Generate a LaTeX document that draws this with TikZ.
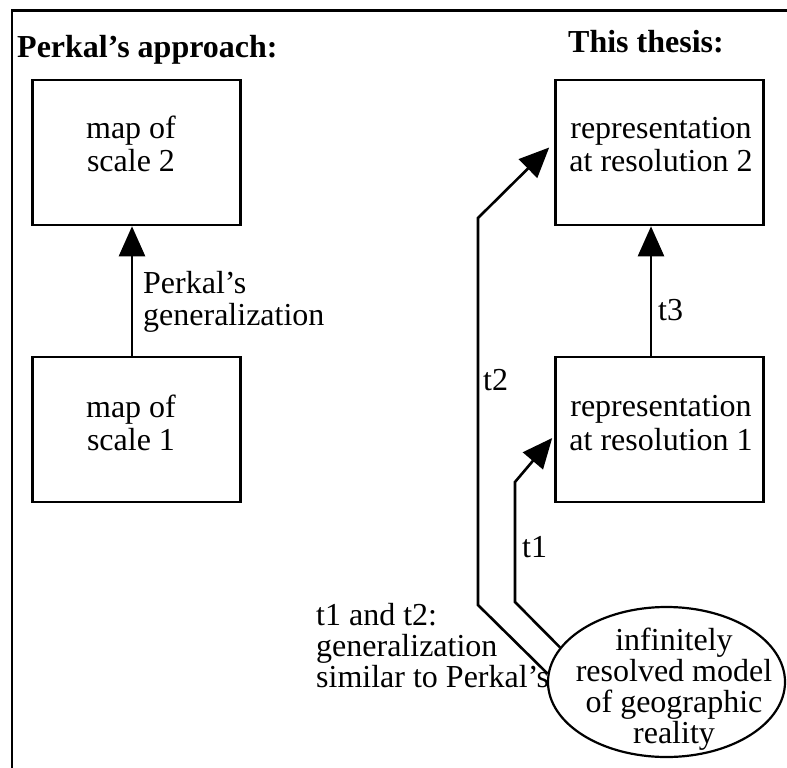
\documentclass[tikz,border=0pt]{standalone}
\usepackage{fontspec}
\setmainfont{Liberation Serif}
\usetikzlibrary{arrows.meta,shapes.geometric,calc}

\begin{document}
\begin{tikzpicture}[x=1pt,y=-1pt,
  box/.style={draw, line width=2.6pt, minimum width=208pt, minimum height=145pt, inner sep=0pt},
  txt/.style={font=\fontsize{32}{33}\selectfont, align=center, inner sep=0pt, anchor=base},
  lbl/.style={font=\fontsize{32}{31}\selectfont, align=left, inner sep=0pt, anchor=base west},
  ttl/.style={font=\fontsize{32}{33}\selectfont\bfseries, inner sep=0pt, anchor=base west},
  conn/.style={line width=2.6pt, line join=miter},
  tip/.style={-{Triangle[length=30pt,width=26pt]}}
]
\useasboundingbox (0,0) rectangle (787,768);
\clip (0,0) rectangle (787,768);

% outer frame (runs past the right and bottom edges)
\draw[line width=2.8pt] (12,800) -- (12,10.7) -- (800,10.7);

% headings
\node[ttl] (hleft) at (17,58) {Perkal’s approach:};
\node[ttl] (hright) at (568,53) {This thesis:};

% left column: Perkal's maps (multi-line text is placed by its last baseline)
\node[box] (map2) at (136.5,152.5) {};
\node[box] (map1) at (136.5,429.5) {};
\node[txt] (map2t) at (131,171) {map of\\scale 2};
\node[txt] (map1t) at (131,450) {map of\\scale 1};
\coordinate (pk) at (132,0);
\draw[conn,tip] (map1.north -| pk) -- (map2.south -| pk);
\node[lbl, font=\fontsize{32}{32}\selectfont] (pkl) at (143,325) {Perkal’s\\generalization};

% right column: representations
\node[box] (rep2) at (659.5,152.5) {};
\node[box] (rep1) at (659.5,429.5) {};
\node[txt] (rep2t) at (661,171) {representation\\at resolution 2};
\node[txt, font=\fontsize{32}{34}\selectfont] (rep1t) at (661,450) {representation\\at resolution 1};
\coordinate (tx) at (651,0);
\draw[conn,tip] (rep1.north -| tx) -- (rep2.south -| tx);
\node[lbl] (t3) at (658,320) {t3};

% the fully resolved model
\node[draw, ellipse, line width=2.2pt, minimum width=237pt, minimum height=150pt, inner sep=0pt] (real) at (666.5,682) {};
\node[txt, font=\fontsize{32}{31}\selectfont] (realt) at (674,743) {infinitely\\resolved model\\of geographic\\reality};

% t2: model -> resolution 2
\coordinate (t2a) at (478,605);
\coordinate (t2b) at (478,218);
\coordinate (t2e) at ($(rep2.west)+(-5,-5)$);
\draw[conn,tip] (real.176) -- (t2a) -- (t2b) -- (t2e);
\node[lbl] (t2) at (483,390) {t2};

% t1: model -> resolution 1
\coordinate (t1a) at (515,602);
\coordinate (t1b) at (515,482);
\coordinate (t1e) at ($(rep1.west)+(-2,8.5)$);
\draw[conn,tip] (real.162) -- (t1a) -- (t1b) -- (t1e);
\node[lbl] (t1) at (522,557) {t1};

\node[lbl] (note) at (316,687) {t1 and t2:\\generalization\\similar to Perkal’s};
\end{tikzpicture}
\end{document}
